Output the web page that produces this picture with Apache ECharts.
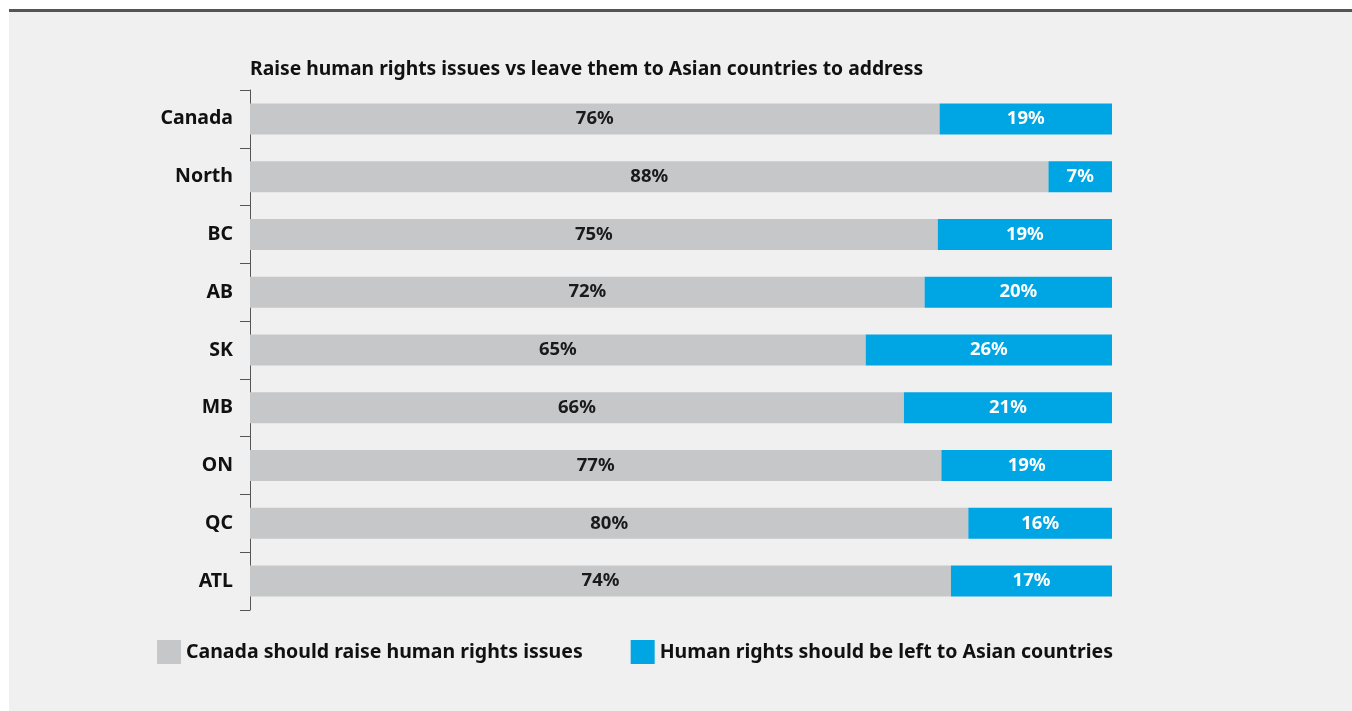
<!DOCTYPE html>
<html>
<head>
<meta charset="utf-8">
<script src="https://cdn.jsdelivr.net/npm/echarts@6/dist/echarts.min.js"></script>
<style>
  html, body { margin: 0; padding: 0; background: #fff; }
  #panel { position: absolute; left: 9px; top: 9px; right: 0; bottom: 0; background: #f0f0f0; border-top: 3px solid #555; }
  #main { position: absolute; left: 0; top: 0; width: 1352px; height: 711px; }
</style>
</head>
<body>
<div id="panel"></div>
<div id="main"></div>
<script>
// regions, top to bottom
var regions = ['Canada', 'North', 'BC', 'AB', 'SK', 'MB', 'ON', 'QC', 'ATL'];
// % saying Canada should raise human rights issues
var raiseIssues = [76, 88, 75, 72, 65, 66, 77, 80, 74];
// % saying human rights should be left to Asian countries
var leaveToAsia = [19, 7, 19, 20, 26, 21, 19, 16, 17];

var FONT = 'Noto Sans';

// bars are drawn as share of the two answers (don't know excluded), labels keep the raw %
function shares(arr) {
  return arr.map(function (v, i) {
    return { value: v / (raiseIssues[i] + leaveToAsia[i]) * 100, raw: v };
  });
}

var chart = echarts.init(document.getElementById('main'), null, { renderer: 'canvas' });

var labelFmt = function (p) { return p.data.raw + '%'; };

chart.setOption({
  backgroundColor: 'transparent',
  animation: false,
  title: {
    text: 'Raise human rights issues vs leave them to Asian countries to address',
    left: 245,
    top: 55,
    textStyle: { fontFamily: FONT, fontSize: 19.3, fontWeight: 'bold', color: '#111' }
  },
  legend: {
    left: 152,
    top: 635,
    itemWidth: 24,
    itemHeight: 24,
    itemGap: 48,
    icon: 'rect',
    textStyle: { fontFamily: FONT, fontSize: 19.5, fontWeight: 'bold', color: '#111' }
  },
  grid: { left: 250, right: 240, top: 90, bottom: 101 },
  xAxis: {
    type: 'value',
    min: 0,
    max: 100,
    show: false
  },
  yAxis: {
    type: 'category',
    data: regions,
    inverse: true,
    axisLine: { show: true, lineStyle: { color: '#555', width: 1 } },
    axisTick: { show: true, length: 10, lineStyle: { color: '#555' } },
    axisLabel: { margin: 17, fontFamily: FONT, fontSize: 19.5, fontWeight: 'bold', color: '#111' }
  },
  series: [
    {
      name: 'Canada should raise human rights issues',
      type: 'bar',
      stack: 'a',
      barWidth: 31,
      itemStyle: { color: '#c6c7c8' },
      label: { show: true, position: 'inside', formatter: labelFmt, fontFamily: FONT, fontSize: 18.5, fontWeight: 'bold', color: '#1a1a1a' },
      data: shares(raiseIssues)
    },
    {
      name: 'Human rights should be left to Asian countries',
      type: 'bar',
      stack: 'a',
      barWidth: 31,
      itemStyle: { color: '#00a5e3' },
      label: { show: true, position: 'inside', formatter: labelFmt, fontFamily: FONT, fontSize: 18.5, fontWeight: 'bold', color: '#fff' },
      data: shares(leaveToAsia)
    }
  ]
});
</script>
</body>
</html>
